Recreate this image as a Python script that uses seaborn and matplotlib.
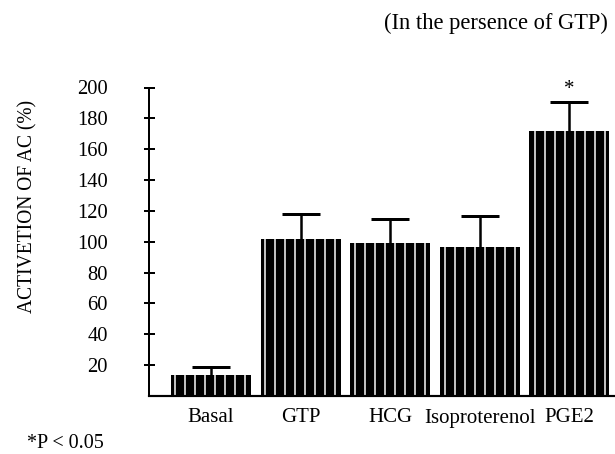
import matplotlib
matplotlib.use("Agg")
import matplotlib.pyplot as plt
import seaborn as sns
import pandas as pd
import numpy as np

categories = ["Basal", "GTP", "HCG", "Isoproterenol", "PGE2"]
activation = [13.4, 101.5, 99.0, 96.8, 172.0]
error_upper = [5.6, 16.5, 16.0, 19.8, 18.5]
y_ticks = [20, 40, 60, 80, 100, 120, 140, 160, 180, 200]
title_text = "(In the persence of GTP)"
ylabel_text = "ACTIVETION OF AC (%)"
footnote_text = "*P < 0.05"
sig_marks = ["", "", "", "", "*"]

sns.set_theme(style="ticks")
plt.rcParams["font.family"] = ["Liberation Serif", "DejaVu Serif"]
plt.rcParams["hatch.linewidth"] = 1.8
plt.rcParams["hatch.color"] = "white"

DPI = 60
fig = plt.figure(figsize=(615 / DPI, 454 / DPI), dpi=DPI)
ax = fig.add_axes([149 / 615, 58 / 454, 466 / 615, 308.5 / 454])

df = pd.DataFrame({"category": categories, "value": activation})
sns.barplot(data=df, x="category", y="value", color="black", saturation=1,
            width=0.894, hatch="|", edgecolor="white", linewidth=0, ax=ax,
            errorbar=None, zorder=2)

x = np.arange(len(categories))
vals = np.array(activation)
errs = np.array(error_upper)
ax.errorbar(x, vals + errs / 2, yerr=errs / 2, fmt="none", ecolor="black",
            elinewidth=3.0, capsize=0, zorder=3)
ax.plot(x, vals + errs, linestyle="none", marker="_", markersize=45.6,
        markeredgewidth=3.6, color="black", zorder=3)

for xi, v, e, m in zip(x, vals, errs, sig_marks):
    if m:
        ax.text(xi, v + e + 8, m, ha="center", va="center", fontsize=25,
                color="black")

ax.set_xlim(-0.693, 4.514)
ax.set_ylim(0, 200)
ax.set_yticks(y_ticks)
ax.set_yticklabels([str(t) for t in y_ticks])
ax.set_xlabel("")
ax.set_ylabel("")
for s in ["top", "right"]:
    ax.spines[s].set_visible(False)
ax.spines["left"].set_linewidth(2.4)
ax.spines["bottom"].set_linewidth(2.6)
ax.spines["left"].set_color("black")
ax.spines["bottom"].set_color("black")
ax.tick_params(axis="y", direction="inout", length=13.2, width=2.4,
               pad=42.6, labelsize=24.6, colors="black")
ax.tick_params(axis="x", length=0, pad=15, labelsize=25, colors="black")

fig.text(28 / 615, 1 - 206.5 / 454, ylabel_text, rotation=90, ha="center",
         va="center", fontsize=23.4, color="black")
fig.text(608 / 615, 1 - 23 / 454, title_text, ha="right", va="center",
         fontsize=27, color="black")
fig.text(27 / 615, 1 - 443 / 454, footnote_text, ha="left", va="center",
         fontsize=24, color="black")

fig.savefig("out.png", dpi=DPI)
